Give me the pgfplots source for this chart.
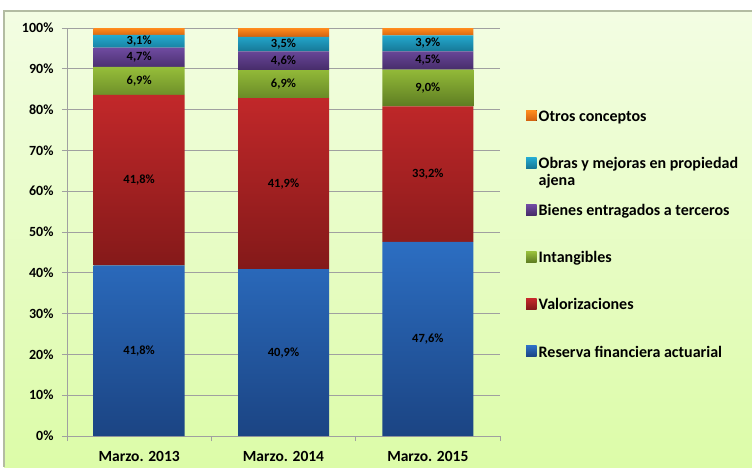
\documentclass[border=0pt]{standalone}
\usepackage{pgfplots}
\pgfplotsset{compat=1.18}
\usepackage{pgfplotstable}
\usepackage{fontspec}
\setmainfont{Carlito}
\definecolor{bgtop}{HTML}{F3FDE3}
\definecolor{bgbot}{HTML}{DCFCA8}
\definecolor{framec}{HTML}{B3BCA2}
\definecolor{gridgray}{HTML}{A0A0A0}
\definecolor{bluetop}{HTML}{2C6EC2}
\definecolor{bluebot}{HTML}{1B4483}
\definecolor{redtop}{HTML}{C2282A}
\definecolor{redbot}{HTML}{831919}
\definecolor{greentop}{HTML}{96BE3A}
\definecolor{greenbot}{HTML}{5E7D22}
\definecolor{purtop}{HTML}{6F4BA1}
\definecolor{purbot}{HTML}{462C69}
\definecolor{tealtop}{HTML}{24AAD0}
\definecolor{tealbot}{HTML}{167896}
\definecolor{orgtop}{HTML}{FF8C1E}
\definecolor{orgbot}{HTML}{D0600E}

\pgfplotstableread{
x res val int bie obr otr
0 41.8 41.8 6.9 4.7 3.1 1.7
1 40.9 41.9 6.9 4.6 3.5 2.2
2 47.6 33.2 9.0 4.5 3.9 1.8
}\data

\pgfplotsset{
  sq/.style={legend image code/.code={\fill[##1] (0pt,-5pt) rectangle (10.5pt,5.5pt);}},
  lab/.style={nodes near coords={\pgfmathprintnumber[fixed,fixed zerofill,precision=1,use comma]{\pgfplotspointmeta}\%},
    point meta=\thisrow{#1},
    every node near coord/.append style={anchor=center, text=black,
      font=\bfseries\fontsize{12.5}{14}\selectfont}},
}

\begin{document}
\begin{tikzpicture}[x=1pt,y=1pt]
\useasboundingbox (0,0) rectangle (752,467);
\fill[white] (0,0) rectangle (752,467);
\shade[top color=bgtop, bottom color=bgbot] (4,0) rectangle (752,456);
\draw[framec, line width=1.5pt] (4,0) -- (4,456) -- (752,456);
\begin{axis}[
  at={(67pt,31pt)}, anchor=south west,
  scale only axis, width=433pt, height=408pt,
  ybar stacked, bar width=91pt,
  xmin=-0.5, xmax=2.5, ymin=0, ymax=100,
  xtick={-0.5,0.5,1.5,2.5}, xticklabels={},
  extra x ticks={0,1,2},
  extra x tick labels={Marzo. 2013,Marzo. 2014,Marzo. 2015},
  extra x tick style={major tick length=0pt, grid=none,
    xticklabel style={yshift=-12pt}},
  ytick={0,10,...,100},
  yticklabel={\pgfmathprintnumber{\tick}\%},
  ymajorgrids, grid style={gridgray, line width=0.8pt},
  axis x line*=bottom, axis y line*=left,
  axis line style={gridgray, line width=0.8pt},
  tick style={gridgray, line width=0.8pt},
  tick align=outside, major tick length=5pt,
  /pgf/number format/assume math mode=true,
  yticklabel style={font=\bfseries\fontsize{14}{16}\selectfont, xshift=-5pt},
  xticklabel style={font=\bfseries\fontsize{15.5}{17}\selectfont},
  reverse legend,
  legend style={at={(1.06,0.807)}, anchor=north west, draw=none, fill=none,
    inner sep=0pt, row sep=29pt, cells={anchor=west},
    font=\bfseries\fontsize{16}{18}\selectfont},
]
\addplot[draw=none, top color=bluetop, bottom color=bluebot, sq, lab=res] table[x=x,y=res]{\data};
\addlegendentry{\strut Reserva financiera actuarial}
\addplot[draw=none, top color=redtop, bottom color=redbot, sq, lab=val] table[x=x,y=val]{\data};
\addlegendentry{\strut Valorizaciones}
\addplot[draw=none, top color=greentop, bottom color=greenbot, sq, lab=int] table[x=x,y=int]{\data};
\addlegendentry{\strut Intangibles}
\addplot[draw=none, top color=purtop, bottom color=purbot, sq, lab=bie] table[x=x,y=bie]{\data};
\addlegendentry{\strut Bienes entragados a terceros}
\addplot[draw=none, top color=tealtop, bottom color=tealbot, sq, lab=obr] table[x=x,y=obr]{\data};
\addlegendentry{\raisebox{0pt}[\ht\strutbox][\dp\strutbox]{\begin{tabular}[t]{@{}l@{}}Obras y mejoras en propiedad\\[-1pt]ajena\end{tabular}}}
\addplot[draw=none, top color=orgtop, bottom color=orgbot, sq] table[x=x,y=otr]{\data};
\addlegendentry{\strut Otros conceptos}
\end{axis}
\end{tikzpicture}
\end{document}
